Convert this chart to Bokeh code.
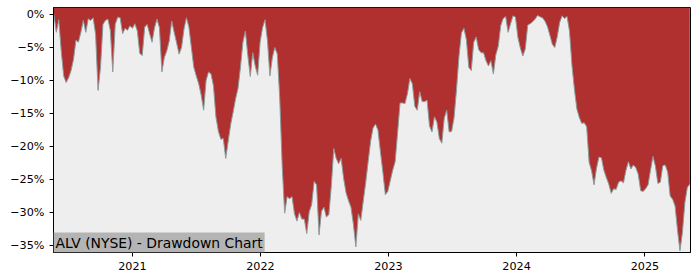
import pandas as pd
from bokeh.plotting import figure
from bokeh.models import ColumnDataSource, Range1d, FixedTicker, Label
from bokeh.embed import file_html
from bokeh.resources import INLINE

# Weekly drawdown (%) of ALV (NYSE)
start_date = "2020-05-22"
drawdown = [
    0.0, -2.7, -0.8, -5.5, -9.3, -10.3, -9.6, -8.5, -6.8, -3.9,
    -4.2, -2.7, -0.9, -2.7, -0.65, -0.9, -0.5, -3.0, -11.5, -8.0,
    -1.5, -0.9, -0.7, -2.4, -8.7, -1.5, -0.4, -0.5, -2.9, -2.1,
    -2.4, -1.7, -2.1, -1.4, -2.5, -5.9, -6.2, -1.9, -1.5, -2.9,
    -4.2, -2.0, -0.7, -2.0, -8.7, -6.5, -5.5, -4.0, -1.0, -2.7,
    -4.3, -6.0, -5.0, -2.2, -0.5, -1.9, -5.0, -8.0, -9.3, -10.5,
    -12.2, -14.5, -10.0, -8.7, -9.0, -10.8, -15.5, -17.7, -18.9, -18.8,
    -21.8, -19.2, -16.7, -14.8, -12.8, -11.2, -8.0, -4.2, -2.5, -6.2,
    -9.4, -5.8, -7.8, -9.2, -4.2, -2.0, -0.8, -4.0, -9.3, -6.5,
    -5.0, -6.0, -12.7, -23.0, -30.1, -27.6, -27.9, -27.6, -30.2, -31.3,
    -30.0, -31.0, -31.0, -33.2, -29.9, -28.8, -25.3, -25.8, -33.4, -29.8,
    -29.2, -30.7, -30.3, -26.0, -20.3, -21.8, -22.6, -21.8, -24.8, -27.0,
    -28.2, -29.2, -31.8, -35.2, -30.2, -31.2, -28.3, -25.5, -22.3, -19.2,
    -17.2, -16.6, -17.5, -20.8, -23.9, -27.3, -26.8, -25.2, -23.6, -22.3,
    -17.9, -13.4, -13.4, -13.5, -12.0, -9.7, -10.5, -13.9, -14.5, -11.7,
    -13.2, -13.2, -13.0, -16.9, -17.8, -15.5, -16.3, -18.8, -19.5, -15.7,
    -14.5, -17.8, -17.7, -15.6, -11.3, -6.3, -2.8, -2.1, -3.8, -8.0,
    -8.5, -4.2, -3.4, -5.3, -5.8, -5.8, -7.0, -7.8, -7.0, -9.0,
    -6.1, -4.8, -1.7, -0.6, -0.3, -2.7, -1.4, -0.2, -0.4, -3.5,
    -5.1, -6.3, -5.2, -1.6, -1.4, -1.1, -0.7, -0.15, -0.35, -0.5,
    -1.0, -1.8, -3.1, -4.5, -5.0, -3.4, -1.2, -0.2, -0.6, -0.3,
    -2.5, -7.7, -11.3, -14.3, -15.6, -16.5, -16.4, -17.0, -22.4, -23.7,
    -25.8, -23.3, -21.6, -21.7, -23.6, -24.7, -25.7, -27.1, -26.4, -26.5,
    -25.4, -25.2, -25.5, -23.6, -22.3, -23.4, -22.8, -23.2, -24.2, -26.7,
    -26.8, -26.4, -25.8, -23.6, -21.5, -23.0, -25.6, -25.4, -22.9, -22.8,
    -23.9, -27.5, -28.0, -29.0, -32.7, -35.8, -33.0, -28.5, -26.2, -25.7,
]
dates = pd.date_range(start_date, periods=len(drawdown), freq="7D")

y_ticks = [0, -5, -10, -15, -20, -25, -30, -35]
y_labels = ["0%", "\u22125%", "\u221210%", "\u221215%", "\u221220%", "\u221225%", "\u221230%", "\u221235%"]
x_years = ["2021", "2022", "2023", "2024", "2025"]
title_text = "ALV (NYSE) - Drawdown Chart"

x_start = pd.Timestamp("2020-05-21")
x_end = pd.Timestamp("2025-05-11")
y_start, y_end = -36.06, 1.06

source = ColumnDataSource(data=dict(date=dates, dd=drawdown, top=[y_end] * len(drawdown)))

p = figure(width=700, height=280, output_backend="svg", toolbar_location=None,
           x_axis_type="datetime",
           x_range=Range1d(x_start, x_end), y_range=Range1d(y_start, y_end),
           min_border_left=53, min_border_right=10, min_border_top=7, min_border_bottom=28)

p.background_fill_color = "#eeeeee"
p.border_fill_color = "white"
p.outline_line_color = "black"
p.outline_line_width = 1
p.xgrid.visible = False
p.ygrid.visible = False

p.varea(x="date", y1="dd", y2="top", source=source, fill_color="#b03030")
p.line(x="date", y="dd", source=source, line_color="#8e9a9a", line_width=1)

tick_ms = [pd.Timestamp(f"{y}-01-01").value // 10**6 for y in x_years]
p.xaxis.ticker = FixedTicker(ticks=tick_ms)
p.xaxis.major_label_overrides = {t: y for t, y in zip(tick_ms, x_years)}
p.yaxis.ticker = FixedTicker(ticks=y_ticks)
p.yaxis.major_label_overrides = {t: l for t, l in zip(y_ticks, y_labels)}

for ax in (p.xaxis, p.yaxis):
    ax.axis_line_color = "black"
    ax.major_tick_line_color = "black"
    ax.major_tick_out = 4
    ax.major_tick_in = 0
    ax.minor_tick_line_color = None
    ax.major_label_text_font = "DejaVu Sans"
    ax.major_label_text_font_size = "11.2px"
    ax.major_label_text_color = "black"
    ax.major_label_standoff = 5

lbl = Label(x=x_start, y=y_start, text=title_text, text_align="left", text_baseline="bottom",
            text_font="DejaVu Sans", text_font_size="13.9px", text_color="black",
            background_fill_color="#b4b4b4", background_fill_alpha=1.0, padding=2)
p.add_layout(lbl)

open("out.html", "w").write(file_html(p, INLINE))
